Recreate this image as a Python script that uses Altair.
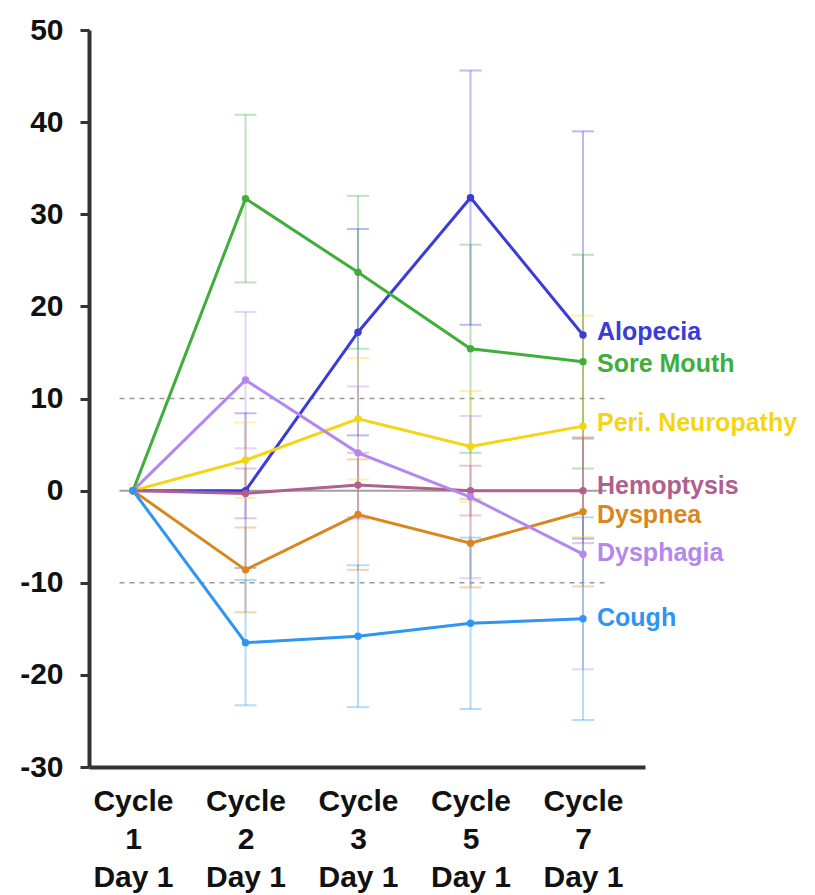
import altair as alt
import pandas as pd

# Visit positions along the x axis (index) and their cycle numbers
cycle_numbers = ["1", "2", "3", "5", "7"]
visit_index = [0, 1, 2, 3, 4]

# Mean change from baseline per symptom, one value per visit
series_names = ["Alopecia", "Sore Mouth", "Peri. Neuropathy", "Hemoptysis",
                "Dyspnea", "Dysphagia", "Cough"]
alopecia = [0, 0.0, 17.2, 31.8, 16.9]
sore_mouth = [0, 31.7, 23.7, 15.4, 14.0]
peri_neuropathy = [0, 3.3, 7.8, 4.8, 7.0]
hemoptysis = [0, -0.3, 0.6, 0.0, 0.0]
dyspnea = [0, -8.6, -2.6, -5.7, -2.3]
dysphagia = [0, 12.0, 4.1, -0.7, -6.9]
cough = [0, -16.5, -15.8, -14.4, -13.9]

# Standard error per visit (baseline has none)
alopecia_err = [0, 8.4, 11.2, 13.8, 22.1]
sore_mouth_err = [0, 9.1, 8.3, 11.3, 11.6]
peri_neuropathy_err = [0, 4.1, 6.6, 6.0, 12.0]
hemoptysis_err = [0, 2.7, 3.5, 2.7, 5.7]
dyspnea_err = [0, 4.6, 6.0, 4.8, 8.1]
dysphagia_err = [0, 7.4, 7.2, 8.8, 12.5]
cough_err = [0, 6.8, 7.7, 9.3, 11.0]

# Vertical placement of the end-of-line series names (spread apart where lines crowd)
label_levels = [17.2, 13.7, 7.3, 0.5, -2.6, -6.8, -13.8]

series_colors = ["#3b3bd8", "#3fae3a", "#f4d514", "#b0608e",
                 "#d8871e", "#b487ef", "#2f95f2"]

# Reference levels
band_levels = [10, -10]
zero_level = [0]

values = [alopecia, sore_mouth, peri_neuropathy, hemoptysis, dyspnea, dysphagia, cough]
errors = [alopecia_err, sore_mouth_err, peri_neuropathy_err, hemoptysis_err,
          dyspnea_err, dysphagia_err, cough_err]

rows = []
for name, vals, errs in zip(series_names, values, errors):
    for i, v, e in zip(visit_index, vals, errs):
        rows.append({"series": name, "visit": i, "value": v, "err": e,
                     "lo": v - e, "hi": v + e})
df = pd.DataFrame(rows)
err_df = df[df["err"] > 0]
label_df = pd.DataFrame({"series": series_names, "visit": visit_index[-1],
                         "level": label_levels})

FONT = "Liberation Sans"
x_min, x_max = -0.391, 4.551

label_list = "[" + ",".join(f"'{c}'" for c in cycle_numbers) + "]"
x_enc = alt.X(
    "visit:Q",
    scale=alt.Scale(domain=[x_min, x_max], nice=False, zero=False),
    axis=alt.Axis(
        values=visit_index,
        labelExpr=f"['Cycle', {label_list}[datum.value], 'Day 1']",
        ticks=False, grid=False, title=None,
        labelFont=FONT, labelFontSize=30, labelFontWeight="bold", labelColor="#111",
        labelAlign="center", labelBaseline="top", labelLineHeight=38,
        labelPadding=19, domainColor="#333", domainWidth=4,
    ),
)
y_scale = alt.Scale(domain=[-30, 50], nice=False)
y_axis = alt.Axis(
    values=list(range(-30, 51, 10)), grid=False, title=None,
    labelExpr="replace(datum.label, '\u2212', '-')",
    labelFont=FONT, labelFontSize=30, labelFontWeight="bold", labelColor="#111",
    labelPadding=17, tickSize=9, tickWidth=3, tickColor="#333",
    domainColor="#333", domainWidth=4,
)
color_enc = alt.Color("series:N", scale=alt.Scale(domain=series_names, range=series_colors),
                      legend=None)

ref_x = [-0.12, 4.21]

band = alt.Chart(pd.DataFrame({"level": band_levels})).mark_rule(
    color="#9a9a9a", strokeDash=[5, 5], strokeWidth=1.5
).encode(x=alt.datum(ref_x[0]), x2=alt.datum(ref_x[1]), y=alt.Y("level:Q", scale=y_scale))

zero = alt.Chart(pd.DataFrame({"level": zero_level})).mark_rule(
    color="#a0a0a0", strokeWidth=2
).encode(x=alt.datum(ref_x[0]), x2=alt.datum(ref_x[1]), y=alt.Y("level:Q", scale=y_scale))

err_base = alt.Chart(err_df)
err_lines = err_base.mark_rule(strokeWidth=2, opacity=0.35).encode(
    x=x_enc, y=alt.Y("lo:Q", scale=y_scale, axis=y_axis), y2="hi:Q", color=color_enc
)
cap_lo = err_base.mark_tick(orient="horizontal", size=22, thickness=2, opacity=0.35).encode(
    x=x_enc, y=alt.Y("lo:Q", scale=y_scale), color=color_enc
)
cap_hi = err_base.mark_tick(orient="horizontal", size=22, thickness=2, opacity=0.35).encode(
    x=x_enc, y=alt.Y("hi:Q", scale=y_scale), color=color_enc
)

lines = alt.Chart(df).mark_line(strokeWidth=3).encode(
    x=x_enc, y=alt.Y("value:Q", scale=y_scale, axis=y_axis), color=color_enc,
    detail="series:N", order="visit:Q"
)
points = alt.Chart(df).mark_circle(size=55, opacity=1).encode(
    x=x_enc, y=alt.Y("value:Q", scale=y_scale), color=color_enc
)
labels = alt.Chart(label_df).mark_text(
    align="left", baseline="middle", dx=14, font=FONT, fontSize=25, fontWeight="bold"
).encode(
    x=x_enc, y=alt.Y("level:Q", scale=y_scale), text="series:N", color=color_enc
)

chart = alt.layer(band, zero, err_lines, cap_lo, cap_hi, lines, points, labels).properties(
    width=556, height=737,
    autosize=alt.AutoSizeParams(type="none"),
    padding={"left": 89, "top": 30, "right": 170, "bottom": 128},
    background="white",
).configure_view(stroke=None)

chart.save("out.html", embed_options={"renderer": "svg", "actions": False})
